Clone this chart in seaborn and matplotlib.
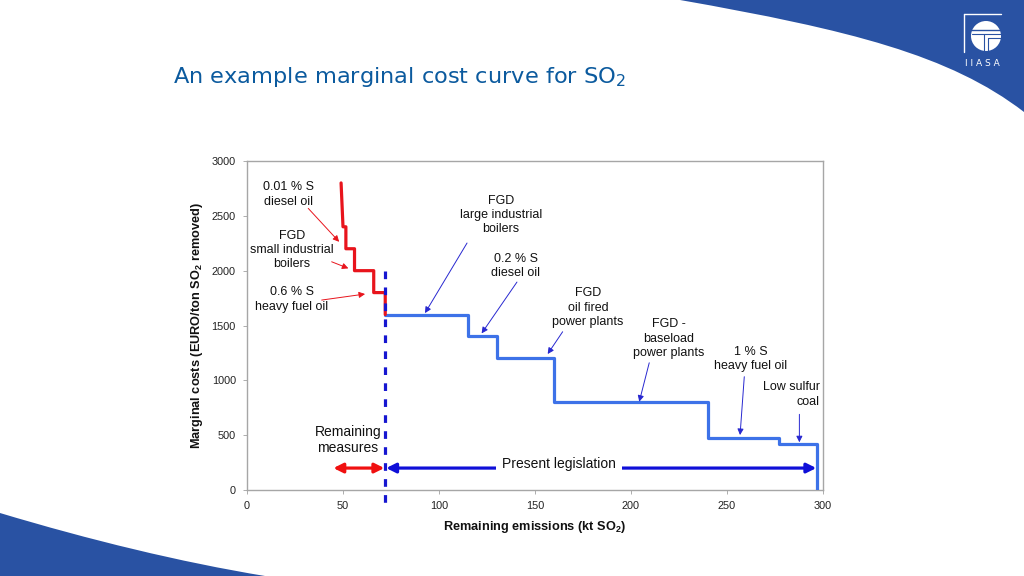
import matplotlib
matplotlib.use("Agg")
import matplotlib.pyplot as plt
import seaborn as sns
import pandas as pd
import numpy as np
from matplotlib.patches import PathPatch, Ellipse
from matplotlib.path import Path

# ---------------- data ----------------
red_x = [49, 50, 51.5, 51.5, 56, 56, 66, 66, 72, 72]
red_y = [2800, 2400, 2400, 2200, 2200, 2000, 2000, 1800, 1800, 1600]

blue_x = [72, 115, 130, 160, 240, 277, 297, 297]
blue_y = [1600, 1400, 1200, 800, 475, 420, 420, 0]

present_x = 72
remaining_from = 45
present_to = 296.5

x_ticks = [0, 50, 100, 150, 200, 250, 300]
y_ticks = [0, 500, 1000, 1500, 2000, 2500, 3000]

labels = [
    "0.01 % S\ndiesel oil",
    "FGD\nsmall industrial\nboilers",
    "0.6 % S\nheavy fuel oil",
    "FGD\nlarge industrial\nboilers",
    "0.2 % S\ndiesel oil",
    "FGD\noil fired\npower plants",
    "FGD -\nbaseload\npower plants",
    "1 % S\nheavy fuel oil",
    "Low sulfur\ncoal",
]
label_x = [21.4, 23.4, 23.4, 132.3, 140.1, 177.6, 219.8, 262.5, 298.4]
label_y = [2694, 2188, 1737, 2507, 2042, 1664, 1380, 1194, 871]
arrow_from_x = [31.9, 44.1, 38.9, 114.6, 140.6, 164.4, 209.5, 259.0, 287.7]
arrow_from_y = [2568, 2081, 1732, 2252, 1896, 1443, 1160, 1033, 690]
arrow_to_x = [48.0, 52.8, 61.5, 92.7, 122.2, 156.6, 204.3, 256.8, 287.7]
arrow_to_y = [2263, 2021, 1787, 1613, 1428, 1240, 805, 501, 435]
label_color = ["red", "red", "red", "blue", "blue", "blue", "blue", "blue", "blue"]

# ---------------- style ----------------
sns.set_theme(style="white")
plt.rcParams["font.family"] = ["Liberation Sans", "DejaVu Sans"]
plt.rcParams["mathtext.default"] = "regular"

W, H = 1024, 576
fig = plt.figure(figsize=(W / 100, H / 100), dpi=100)
fig.patch.set_facecolor("white")

def fx(px):
    return px / W

def fy(py):
    return 1 - py / H

def P(a, b):
    return (fx(a), fy(b))

# decorative blue shapes
deco_blue = "#2952a3"
tr_verts = [P(680, 0), P(850, 30), P(950, 55), P(1024, 112), P(1024, 0), P(680, 0)]
tr_codes = [Path.MOVETO, Path.CURVE4, Path.CURVE4, Path.CURVE4, Path.LINETO, Path.CLOSEPOLY]
fig.patches.append(PathPatch(Path(tr_verts, tr_codes), transform=fig.transFigure,
                             facecolor=deco_blue, edgecolor="none", zorder=0))
bl_verts = [P(0, 513), P(90, 540), P(180, 562), P(265, 576), P(0, 576), P(0, 513)]
bl_codes = [Path.MOVETO, Path.CURVE4, Path.CURVE4, Path.CURVE4, Path.LINETO, Path.CLOSEPOLY]
fig.patches.append(PathPatch(Path(bl_verts, bl_codes), transform=fig.transFigure,
                             facecolor=deco_blue, edgecolor="none", zorder=0))

# IIASA logo (approximation)
def fline(xs, ys, lw=1.0, color="white"):
    fig.add_artist(plt.Line2D([fx(v) for v in xs], [fy(v) for v in ys], color=color,
                              lw=lw, transform=fig.transFigure))

fline([964, 1001], [14, 14])
fline([964, 964], [14, 52])
fig.add_artist(Ellipse(P(986, 36), 30 / W, 30 / H, transform=fig.transFigure,
                       facecolor="white", edgecolor="none"))
fline([970, 1001], [30, 30], lw=1.0, color=deco_blue)
fline([972, 1001], [34, 34], lw=0.8, color=deco_blue)
fline([984, 984], [34, 52], lw=0.8, color=deco_blue)
fline([988, 988], [38, 52], lw=0.8, color=deco_blue)
fline([988, 1001], [38, 38], lw=0.8, color=deco_blue)
fig.text(fx(982.5), fy(63), "I I A S A", color="white", fontsize=6.5,
         ha="center", va="center", family="DejaVu Sans")

# title
fig.text(fx(173), fy(77), "An example marginal cost curve for SO$_2$", color="#0b5a9e",
         fontsize=16.2, ha="left", va="center", family="DejaVu Sans")

# ---------------- axes ----------------
ax = fig.add_axes([fx(247), fy(490), (823 - 247) / W, (490 - 161) / H])
ax.set_facecolor("white")

sns.lineplot(x=red_x, y=red_y, ax=ax, sort=False, estimator=None,
             color="#e8141c", lw=2.3, zorder=4)
sns.lineplot(x=blue_x, y=blue_y, ax=ax, sort=False, estimator=None,
             drawstyle="steps-post", color="#3d72e8", lw=2.3, zorder=3)

ax.plot([present_x, present_x], [2000, -170], color="#1616d0", lw=2.3,
        linestyle=(0, (2.4, 2.6)), clip_on=False, zorder=5)

ax.set_xlim(0, 300)
ax.set_ylim(0, 3000)
ax.set_xticks(x_ticks)
ax.set_yticks(y_ticks)
ax.tick_params(axis="both", which="both", direction="out", length=3, width=0.6,
               color="#a0a0a0", labelsize=7.8, labelcolor="#222222", pad=5,
               left=True, bottom=True)
for s in ax.spines.values():
    s.set_color("#a6a6a6")
    s.set_linewidth(1.0)
ax.grid(False)

ax.set_xlabel("Remaining emissions (kt SO$_2$)", fontsize=9.2, fontweight="bold",
              color="#111111", labelpad=6)
ax.set_ylabel("Marginal costs (EURO/ton SO$_2$ removed)", fontsize=9.2,
              fontweight="bold", color="#111111", labelpad=5)

# annotations
for t, tx, ty, x0, y0, x1, y1, c in zip(labels, label_x, label_y, arrow_from_x,
                                        arrow_from_y, arrow_to_x, arrow_to_y, label_color):
    ha = "right" if t.startswith("Low") else "center"
    ax.text(tx, ty, t, ha=ha, va="center", multialignment=ha, fontsize=9,
            linespacing=1.25, color="#111111", zorder=6)
    acol = "#e8141c" if c == "red" else "#2828d0"
    ax.annotate("", xy=(x1, y1), xytext=(x0, y0),
                arrowprops=dict(arrowstyle="-|>", color=acol, lw=0.7,
                                mutation_scale=9, shrinkA=0, shrinkB=0), zorder=6)

# double arrows
arrow_y = 200
ax.annotate("", xy=(remaining_from, arrow_y), xytext=(present_x - 0.5, arrow_y),
            arrowprops=dict(arrowstyle="<|-|>", color="#f01010", lw=2.3,
                            mutation_scale=14, shrinkA=0, shrinkB=0), zorder=6)
ax.annotate("", xy=(present_x + 0.5, arrow_y), xytext=(present_to, arrow_y),
            arrowprops=dict(arrowstyle="<|-|>", color="#0f0fd8", lw=2.3,
                            mutation_scale=14, shrinkA=0, shrinkB=0), zorder=6)
ax.text(162.5, 237, "Present legislation", ha="center", va="center", fontsize=10,
        color="#111111", zorder=7,
        bbox=dict(boxstyle="square,pad=0.45", facecolor="white", edgecolor="none"))
ax.text(52.6, 456, "Remaining\nmeasures", ha="center", va="center", fontsize=10,
        linespacing=1.2, color="#111111", zorder=7)

fig.savefig("out.png", dpi=100, facecolor="white")
